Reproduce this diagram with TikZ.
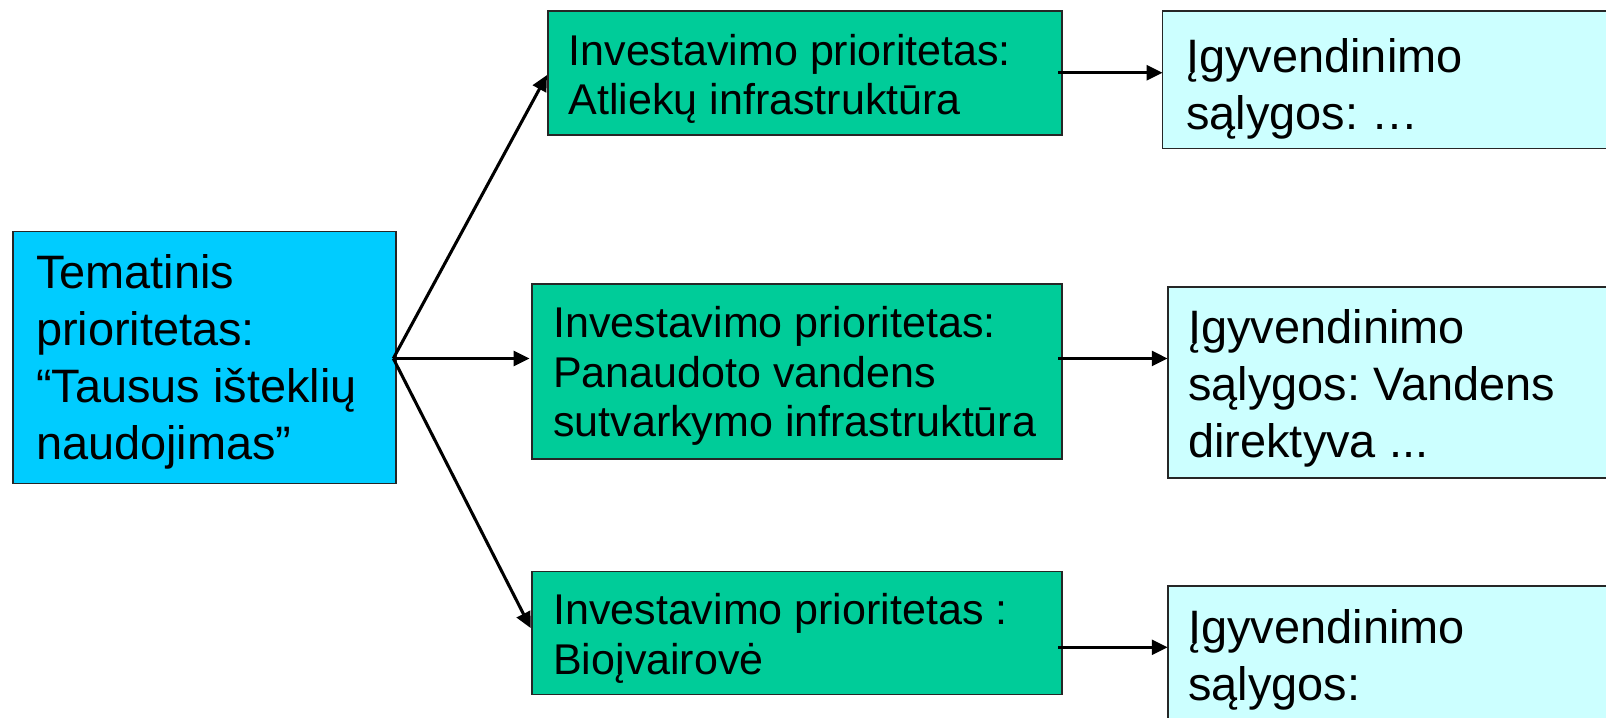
\documentclass[tikz,border=0pt]{standalone}
\usepackage{fontspec}
\setmainfont{Liberation Sans}
\usetikzlibrary{arrows.meta}
\definecolor{cyanbox}{HTML}{00CCFF}
\definecolor{greenbox}{HTML}{00CC99}
\definecolor{lightbox}{HTML}{CCFFFF}
\frenchspacing
\begin{document}
\begin{tikzpicture}[x=1pt,y=-1pt,
  box/.style={draw=black!85,line width=1.8pt,rectangle,anchor=north west,inner sep=0pt,outer sep=0pt},
  bigtxt/.style={anchor=north west,inner sep=0pt,align=left,font=\fontsize{45.8}{55.6}\selectfont},
  smalltxt/.style={anchor=north west,inner sep=0pt,align=left,font=\fontsize{42}{48.5}\selectfont},
  arr/.style={line width=3pt,-{Triangle[length=15.5pt,width=14.5pt]}}]
\useasboundingbox (0,0) rectangle (1568,701);
\clip (0,0) rectangle (1568,701);
% boxes
\node[box,fill=cyanbox,minimum width=374pt,minimum height=246pt] (L) at (13,226) {};
\node[box,fill=greenbox,minimum width=502pt,minimum height=121pt] (G1) at (535,11) {};
\node[box,fill=greenbox,minimum width=518pt,minimum height=171pt] (G2) at (519,277) {};
\node[box,fill=greenbox,minimum width=518pt,minimum height=120pt] (G3) at (519,558) {};
\node[box,fill=lightbox,minimum width=600pt,minimum height=134pt] (R1) at (1135,11) {};
\node[box,fill=lightbox,minimum width=600pt,minimum height=187pt] (R2) at (1140,280) {};
\node[box,fill=lightbox,minimum width=600pt,minimum height=200pt] (R3) at (1140,572) {};
% texts
\node[bigtxt] (tL) at (35,248.2) {Tematinis\\prioritetas:\\“Tausus išteklių\\naudojimas”};
\node[smalltxt] (tG1) at (555,33) {Investavimo prioritetas:\\Atliekų infrastruktūra};
\node[smalltxt] (tG2) at (540,299) {Investavimo prioritetas:\\Panaudoto vandens\\sutvarkymo infrastruktūra};
\node[smalltxt] (tG3) at (540,579) {Investavimo prioritetas :\\Bioįvairovė};
\node[bigtxt] (tR1) at (1158,37) {Įgyvendinimo\\sąlygos: …};
\node[bigtxt] (tR2) at (1160,302) {Įgyvendinimo\\sąlygos: Vandens\\direktyva ...};
\node[bigtxt] (tR3) at (1160,595) {Įgyvendinimo\\sąlygos:};
% connector points
\coordinate (hub) at (384,350);
\coordinate (h1) at (1033,71);
\coordinate (h3) at (1033,632);
\coordinate (b3) at (519,615);
% arrows
\draw[arr,shorten >=2pt] (hub) -- (G1.west);
\draw[arr,shorten >=2pt] (hub) -- (hub -| G2.west);
\draw[arr,shorten >=2pt] (hub) -- (b3);
\draw[arr] (h1) -- (h1 -| R1.west);
\draw[arr] (hub -| h1) -- (hub -| R2.west);
\draw[arr] (h3) -- (h3 -| R3.west);
\end{tikzpicture}
\end{document}
